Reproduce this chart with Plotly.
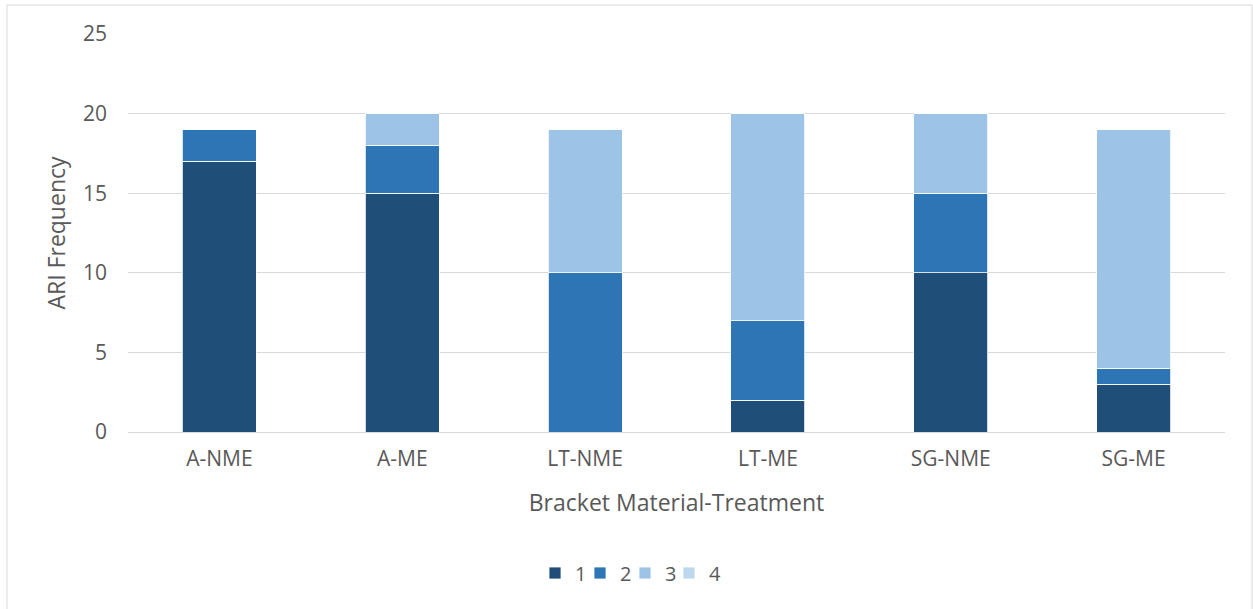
import plotly.graph_objects as go

# ARI frequency counts per bracket material / treatment group
categories = ["A-NME", "A-ME", "LT-NME", "LT-ME", "SG-NME", "SG-ME"]
ari_1 = [17, 15, 0, 2, 10, 3]
ari_2 = [2, 3, 10, 5, 5, 1]
ari_3 = [0, 2, 9, 13, 5, 15]
ari_4 = [0, 0, 0, 0, 0, 0]
series_names = ["1", "2", "3", "4"]
series_values = [ari_1, ari_2, ari_3, ari_4]
series_colors = ["#1F4E79", "#2E75B6", "#9DC3E6", "#BDD7EE"]
y_ticks = [0, 5, 10, 15, 20, 25]

FONT = "Open Sans"
TEXT_COLOR = "#595959"
GRID_COLOR = "#D9D9D9"

# plot area: x 128..1225, y 34..432 in a 1253x609 page
L, R, T, B = 128, 28, 34, 177
W, H = 1253, 609
pw = W - L - R
ph = H - T - B

def px_x(x):
    return (x - L) / pw

def px_y(y):
    return (H - B - y) / ph

# one single-entry legend per series so the entries sit close together
legend_ids = ["legend", "legend2", "legend3", "legend4"]
legend_left_px = [535, 580, 625, 669]

fig = go.Figure()
for name, vals, color, lid in zip(series_names, series_values, series_colors, legend_ids):
    fig.add_trace(go.Bar(
        x=categories,
        y=vals,
        name=name,
        legend=lid,
        marker=dict(color=color, line=dict(color="white", width=0.8)),
    ))

legend_layouts = {}
for lid, left in zip(legend_ids, legend_left_px):
    legend_layouts[lid] = dict(
        orientation="h",
        x=px_x(left), xanchor="left",
        y=px_y(573), yanchor="middle",
        font=dict(family=FONT, size=20, color=TEXT_COLOR),
        itemwidth=30,
        bgcolor="rgba(0,0,0,0)",
        borderwidth=0,
    )

fig.update_layout(
    width=W,
    height=H,
    margin=dict(l=L, r=R, t=T, b=B, pad=0),
    barmode="stack",
    bargap=0.595,
    paper_bgcolor="white",
    plot_bgcolor="white",
    font=dict(family=FONT, color=TEXT_COLOR, size=21),
    showlegend=True,
    xaxis=dict(
        showgrid=False,
        showline=False,
        zeroline=False,
        ticks="",
        ticklabelstandoff=12,
        tickfont=dict(family=FONT, size=21, color=TEXT_COLOR),
        title=dict(text="Bracket Material-Treatment",
                   font=dict(family=FONT, size=23, color=TEXT_COLOR),
                   standoff=23),
    ),
    yaxis=dict(
        range=[0, 25],
        tickvals=y_ticks,
        showgrid=True,
        gridcolor=GRID_COLOR,
        gridwidth=1,
        zeroline=True,
        zerolinecolor=GRID_COLOR,
        zerolinewidth=1,
        showline=False,
        ticks="",
        ticklabelstandoff=20,
        tickfont=dict(family=FONT, size=21, color=TEXT_COLOR),
        title=dict(text="ARI Frequency",
                   font=dict(family=FONT, size=23, color=TEXT_COLOR),
                   standoff=10),
    ),
    shapes=[
        # outer chart frame
        dict(type="rect", xref="paper", yref="paper",
             x0=px_x(7), x1=px_x(1252), y0=px_y(614), y1=px_y(5),
             line=dict(color=GRID_COLOR, width=1), fillcolor="rgba(0,0,0,0)",
             layer="below"),
    ],
    **legend_layouts,
)

fig.write_html("out.html")
